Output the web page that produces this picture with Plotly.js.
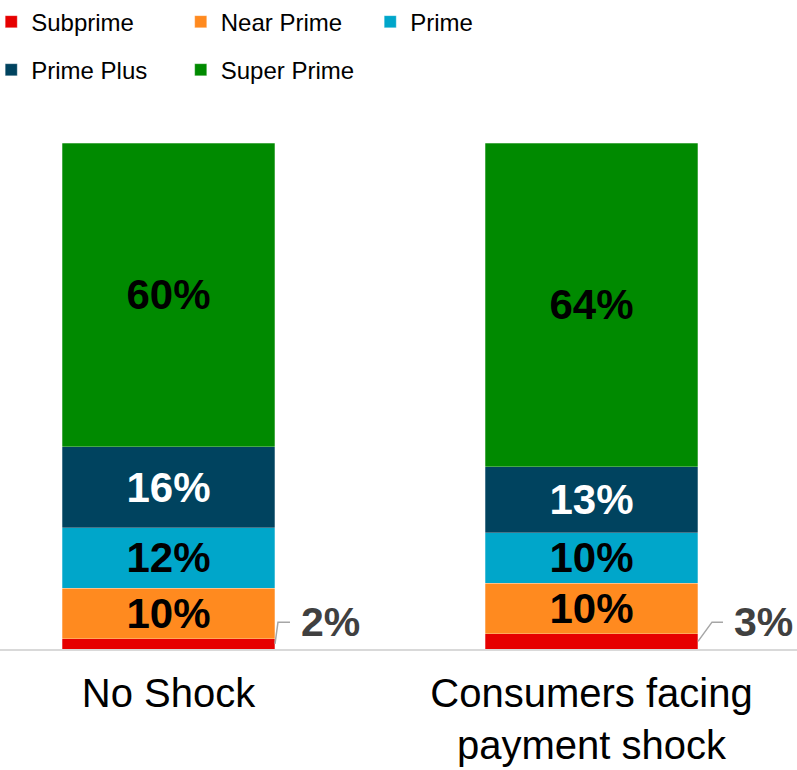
<!DOCTYPE html>
<html>
<head>
<meta charset="utf-8">
<script src="https://cdn.plot.ly/plotly-3.0.1.min.js"></script>
<style>
  html, body { margin: 0; padding: 0; background: #ffffff; }
  #chart { width: 797px; height: 770px; }
</style>
</head>
<body>
<div id="chart"></div>
<script>
// Credit-score mix of consumers, with and without a payment shock (percent of each group)
const categories = ['No Shock', 'Consumers facing payment shock'];
const tickLabels = ['No Shock', 'Consumers facing<br>payment shock'];
const seriesNames = ['Subprime', 'Near Prime', 'Prime', 'Prime Plus', 'Super Prime'];
const subprime   = [2, 3];
const nearPrime  = [10, 10];
const prime      = [12, 10];
const primePlus  = [16, 13];
const superPrime = [60, 64];

const FONT = 'Liberation Sans, Arial, Helvetica, sans-serif';
const xPos = categories.map((_, i) => i);
const BAR_W = 0.5035;

const series = [
  { name: seriesNames[0], y: subprime,   color: '#E60000', text: 'none',    legend: 'legend'  },
  { name: seriesNames[1], y: nearPrime,  color: '#FF8A1F', text: '#000000', legend: 'legend'  },
  { name: seriesNames[2], y: prime,      color: '#00A6CA', text: '#000000', legend: 'legend'  },
  { name: seriesNames[3], y: primePlus,  color: '#00435F', text: '#FFFFFF', legend: 'legend2' },
  { name: seriesNames[4], y: superPrime, color: '#008A00', text: '#000000', legend: 'legend2' }
];

const traces = series.map(s => ({
  type: 'bar',
  x: xPos,
  y: s.y,
  name: s.name,
  width: BAR_W,
  legend: s.legend,
  marker: { color: s.color, line: { width: 0.6, color: 'rgba(255,255,255,0.45)' } },
  text: s.text === 'none' ? null : s.y.map(v => v + '%'),
  textposition: s.text === 'none' ? 'none' : 'inside',
  insidetextanchor: 'middle',
  constraintext: 'none',
  textangle: 0,
  textfont: { family: FONT, size: 42, weight: 'bold', color: s.text === 'none' ? '#000' : s.text },
  hoverinfo: 'skip'
}));

// Small subprime shares are labelled beside the bar with a bent leader line
const LABEL_Y = 5.3;
const leaderBend = [3, 14];
const leaderEnd = [15, 25];
const labelShift = [24, 34];

const shapes = xPos.map((x, i) => ({
  type: 'path',
  xref: 'x', yref: 'y',
  xsizemode: 'pixel',
  xanchor: x + BAR_W / 2,
  path: `M0,${subprime[i] / 2} L${leaderBend[i]},${LABEL_Y} L${leaderEnd[i]},${LABEL_Y}`,
  line: { color: '#A6A6A6', width: 1.5 }
}));

const annotations = xPos.map((x, i) => ({
  xref: 'x', yref: 'y',
  x: x + BAR_W / 2,
  y: LABEL_Y,
  xanchor: 'left', yanchor: 'middle',
  xshift: labelShift[i],
  text: subprime[i] + '%',
  showarrow: false,
  font: { family: FONT, size: 41, weight: 'bold', color: '#404040' }
}));

const legendBase = {
  orientation: 'h',
  x: -0.011, xanchor: 'left',
  yanchor: 'middle',
  bgcolor: 'rgba(0,0,0,0)',
  font: { family: FONT, size: 24, color: '#000000' },
  entrywidth: 144.5,
  entrywidthmode: 'pixels',
  traceorder: 'normal'
};

const layout = {
  width: 797,
  height: 770,
  margin: { l: 0, r: 0, t: 143, b: 121, pad: 0, autoexpand: false },
  paper_bgcolor: '#ffffff',
  plot_bgcolor: '#ffffff',
  barmode: 'stack',
  showlegend: true,
  legend: Object.assign({}, legendBase, { y: 1.239 }),
  legend2: Object.assign({}, legendBase, { y: 1.144 }),
  xaxis: {
    type: 'linear',
    range: [-168.5 / 423, (797 - 168.5) / 423],
    tickvals: xPos,
    ticktext: tickLabels,
    tickfont: { family: FONT, size: 40, color: '#000000' },
    ticks: '',
    ticklabelstandoff: 8,
    showgrid: false,
    zeroline: false,
    showline: true,
    linecolor: '#D9D9D9',
    linewidth: 2,
    fixedrange: true
  },
  yaxis: {
    range: [0, 100],
    visible: false,
    fixedrange: true
  },
  shapes: shapes,
  annotations: annotations
};

Plotly.newPlot('chart', traces, layout, { displayModeBar: false, staticPlot: true });
</script>
</body>
</html>
